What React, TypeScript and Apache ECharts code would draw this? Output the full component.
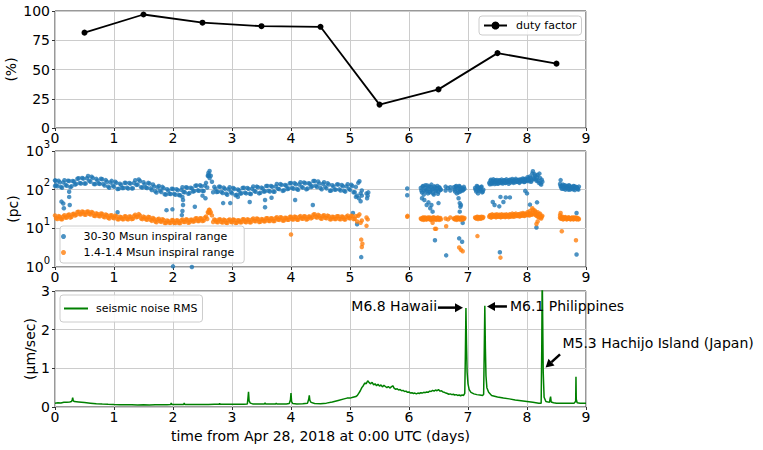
import React, { useEffect, useRef } from "react";
import * as echarts from "echarts";

// ---------- data ----------
const dayTicks = [0, 1, 2, 3, 4, 5, 6, 7, 8, 9];

const dutyDays = [0.5, 1.5, 2.5, 3.5, 4.5, 5.5, 6.5, 7.5, 8.5];
const dutyValues = [81.5, 97, 90, 87, 86.5, 20, 33, 64, 55];

// inspiral range runs: each run starts at a day and is sampled at a fixed step (days)
const runStartA = 0, runStartA2 = 0.02, runStepA = 0.04;
const bbhRunA = [
  174, 123, 156, 112, 175, 126, 167, 123, 163, 141,
  198, 145, 193, 144, 225, 160, 201, 139, 173, 141,
  186, 128, 160, 112, 169, 119, 150, 105, 132, 110,
  150, 107, 143, 108, 175, 135, 167, 113, 137, 110,
  144, 98, 121, 84, 125, 87, 109, 75, 95, 77,
  104, 74, 97, 72, 115, 86, 112, 82, 107, 92,
  128, 94, 123, 92, 150, 225, 230, 86, 105, 88,
  118, 82, 105, 74, 115, 81, 104, 74, 96, 81,
  112, 80, 105, 77, 121, 88, 115, 83, 107, 91,
  125, 90, 119, 88, 140, 103, 133, 97, 126, 107,
  149, 106, 138, 99, 155, 113, 147, 107, 142, 123,
  168, 117, 145, 102, 155, 108, 136, 95, 121, 100,
  136, 95, 123, 89, 138, 99, 124, 86, 70, 165,
  95,
];
const bbhRunA2 = [
  131, 171, 118, 154, 133, 171, 116, 168, 135, 192,
  149, 201, 145, 198, 171, 217, 140, 190, 144, 192,
  140, 177, 120, 154, 128, 161, 104, 143, 110, 150,
  113, 149, 108, 149, 133, 183, 116, 155, 113, 150,
  108, 136, 91, 116, 95, 118, 76, 103, 78, 106,
  78, 103, 73, 99, 87, 116, 78, 112, 89, 126,
  96, 130, 93, 127, 114, 305, 160, 118, 87, 120,
  88, 113, 79, 102, 87, 110, 72, 101, 79, 110,
  84, 111, 79, 106, 92, 120, 80, 113, 89, 124,
  94, 125, 90, 121, 106, 139, 93, 132, 104, 146,
  112, 148, 104, 136, 118, 154, 102, 146, 117, 168,
  126, 163, 110, 141, 118, 146, 94, 130, 100, 137,
  102, 132, 93, 122, 105, 134, 86, 118, 150, 80,
];
const bnsRunA = [
  21.5, 17.5, 20.1, 17.1, 21.8, 19, 22.7, 20, 23.9, 22.3,
  27, 23, 26.5, 22.5, 27.4, 22.8, 25.4, 20.9, 23.4, 20.5,
  23.7, 19.3, 21.7, 18, 21.8, 18.2, 20.5, 17.1, 19.3, 17.2,
  20.4, 17, 20.1, 17.6, 22.4, 20, 21.6, 17.3, 19.2, 16.7,
  19.3, 15.6, 17.5, 14.4, 17.7, 14.7, 16.4, 13.7, 15.4, 13.8,
  16.3, 13.6, 15.9, 13.5, 17, 14.6, 16.8, 14.4, 16.6, 15.2,
  18.2, 15.5, 18, 15.8, 20.2, 25.5, 26, 14.6, 16.2, 14.4,
  17.1, 14.2, 16.2, 13.7, 17, 14.4, 16.4, 13.9, 16, 14.4,
  17.2, 14.4, 16.7, 14.3, 17.9, 15.3, 17.5, 14.8, 17.1, 15.3,
  18.3, 15.5, 18, 15.5, 19.4, 16.5, 18.9, 16, 18.5, 16.7,
  20, 16.9, 19.6, 16.7, 20.7, 17.7, 20.3, 17.3, 20.3, 19.1,
  23.1, 18.9, 21.2, 17.6, 21.7, 18.2, 20.5, 17.2, 19.6, 17.4,
  20.5, 17.1, 19.8, 16.9, 21.3, 18.1, 20.7, 17.7, 15, 23,
  16,
];
const bnsRunA2 = [
  18.3, 20.7, 17.3, 20.3, 18.9, 22.2, 18.9, 23.3, 21.4, 26.4,
  23, 27.3, 22.8, 26.8, 23.8, 26.6, 21.2, 24.4, 20.9, 24.2,
  20.2, 22.9, 18.7, 21.4, 18.9, 21.3, 17.1, 19.9, 17.3, 20.4,
  17.4, 20.2, 17.3, 20.9, 19.4, 23.3, 18, 20.1, 17.2, 19.8,
  16.5, 18.5, 15, 17.1, 15.3, 17.2, 13.7, 15.9, 13.8, 16.3,
  13.9, 16.1, 13.7, 16.1, 14.7, 17.1, 14, 16.7, 14.9, 17.9,
  15.5, 18.3, 15.5, 18.7, 17.5, 30, 21.6, 17, 14.5, 17,
  14.6, 16.8, 13.9, 16.3, 14.7, 16.9, 13.7, 16.2, 14.3, 17.1,
  14.7, 17.1, 14.4, 17, 15.5, 17.9, 14.6, 17.3, 15.3, 18.2,
  15.6, 18.3, 15.5, 18.4, 16.8, 19.3, 15.8, 18.7, 16.6, 19.8,
  17.1, 20.1, 16.8, 19.8, 17.9, 20.6, 16.9, 20.1, 18.1, 22.6,
  19.7, 22.3, 18.2, 21, 18.8, 21.3, 17.1, 20, 17.5, 20.6,
  17.5, 20.3, 17, 20.1, 18.4, 21.1, 17.3, 20.7, 21, 14,
];

const runStepShort = 0.02;

const runStartB = 6.2, runStartB2 = 6.21;
const bbhRunB = [110, 85, 125, 95, 130, 100, 80, 120, 90, 135, 105, 75, 115, 95, 125, 88, 110, 100];
const bbhRunB2 = [95, 120, 75, 110, 90, 128, 105, 85, 118, 98, 80, 122, 92, 108, 78, 115, 98];
const bnsRunB = [18, 17, 19, 17.5, 18.5, 17, 19, 18, 17, 18.5, 17.5, 19, 18, 16.5, 18.5, 17.5, 18, 17];
const bnsRunB2 = [17.5, 18.5, 16.5, 19, 17, 18, 17.5, 19, 16.5, 18, 19, 17, 18.5, 17.5, 19, 16.5, 18.5];

const runStartD = 6.76, runStartD2 = 6.77;
const bbhRunD = [115, 90, 125, 100, 85, 120, 95, 110, 100, 105];
const bbhRunD2 = [100, 120, 80, 110, 125, 90, 105, 95, 118];
const bnsRunD = [18, 17, 19, 17.5, 18.5, 17, 19, 18, 17.5, 18.5];
const bnsRunD2 = [17.5, 18.5, 16.5, 19, 17.5, 18, 16.5, 19, 17.5];

const runStartE = 7.12, runStartE2 = 7.13;
const bbhRunE = [110, 90, 120, 95, 105, 115, 85, 100];
const bbhRunE2 = [100, 125, 80, 110, 95, 120, 90];
const bnsRunE = [19, 18, 20, 18.5, 19.5, 18, 19, 19.5];
const bnsRunE2 = [18.5, 19.5, 17.5, 19, 18, 20, 18.5];

const runStartF = 7.36, runStartF2 = 7.37;
const bbhRunF = [
  150, 170, 140, 165, 155, 175, 145, 160, 150, 170,
  148, 165, 155, 172, 150, 168, 158, 175, 152, 170,
  160, 178, 155, 172, 162, 180, 158, 175, 165, 185,
  160, 180, 168, 190, 165, 200, 175, 300, 190, 230,
  170, 240, 150, 200, 135, 160,
];
const bbhRunF2 = [
  138, 180, 150, 185, 140, 160, 178, 142, 175, 155,
  182, 145, 175, 150, 185, 160, 142, 180, 165, 188,
  150, 170, 190, 160, 175, 150, 185, 170, 195, 158,
  190, 175, 210, 180, 220, 160, 260, 200, 250, 185,
  210, 170, 260, 145, 180,
];
const bnsRunF = [
  20, 22, 19.5, 21.5, 20.5, 22.5, 19.5, 21, 20, 22,
  19.5, 21.5, 20.5, 22, 20, 21.5, 20.5, 22.5, 20, 22,
  21, 23, 20.5, 22, 21, 23, 20.5, 22.5, 21.5, 23.5,
  21, 23, 22, 24, 21.5, 25, 22.5, 30, 23, 27,
  21, 26, 19, 24, 18, 21,
];
const bnsRunF2 = [
  21.5, 19, 23, 20, 21.5, 19.5, 23, 20.5, 22.5, 19.5,
  23, 20, 22.5, 19.5, 23, 21, 19.5, 23, 21, 24,
  20, 22.5, 24, 21, 23, 20.5, 24, 21.5, 25, 21,
  24, 22, 26, 22.5, 28, 23, 33, 25, 29, 22,
  24, 20, 23, 19, 20,
];

const runStartG = 8.56, runStartG2 = 8.57;
const bbhRunG = [140, 115, 125, 105, 130, 110, 120, 100, 125, 108, 118, 102, 122, 110, 115, 105, 120];
const bbhRunG2 = [125, 105, 135, 115, 100, 125, 110, 130, 100, 115, 108, 125, 98, 118, 110, 100];
const bnsRunG = [19, 18, 20, 17.5, 19, 18.5, 17.5, 19, 18, 17, 18.5, 17.5, 19, 18, 17, 18.5, 17.5];
const bnsRunG2 = [18, 19.5, 17, 18.5, 19.5, 17, 18, 19, 17.5, 18.5, 19, 17, 18, 19, 18, 17];

// isolated samples [day, pc]
const bbhSingles = [
  [0.01, 170], [0.0, 125], [0.11, 49], [0.14, 44], [0.15, 33], [0.24, 88], [0.24, 65], [0.25, 40],
  [1.06, 26], [1.89, 29.5], [1.99, 31], [2.0, 1.04], [2.16, 65], [2.17, 54], [2.17, 40],
  [2.16, 28], [2.15, 22], [2.32, 1.0], [2.37, 36], [2.5, 70], [2.55, 60], [2.59, 230], [2.6, 270],
  [2.61, 240], [2.62, 200], [2.85, 45], [2.97, 45], [3.1, 65], [3.3, 48], [3.56, 54], [3.56, 35],
  [3.67, 62], [4.07, 54], [4.37, 40], [5.05, 25], [5.1, 65], [5.12, 12.8], [5.15, 60], [5.18, 50],
  [5.19, 1.8], [5.2, 70], [5.28, 80], [5.29, 60], [5.3, 70], [5.31, 85], [5.97, 107], [5.97, 72],
  [6.22, 60], [6.26, 54], [6.3, 40], [6.33, 47], [6.36, 33], [6.38, 40], [6.4, 27], [6.44, 4.9],
  [6.5, 45], [6.62, 120], [6.62, 95], [6.63, 2.0], [6.66, 110], [6.7, 115], [6.7, 95],
  [6.84, 60], [6.86, 45], [6.86, 27], [6.87, 36], [6.88, 40], [6.85, 5.5], [6.9, 4.5], [6.91, 13.8],
  [7.42, 48], [7.45, 40], [7.53, 37], [7.54, 2.4], [7.55, 65], [7.6, 48], [7.64, 63], [7.71, 63],
  [7.97, 93], [8.0, 80], [8.05, 41], [8.17, 47], [8.16, 10.5], [8.57, 177], [8.84, 25], [8.84, 2.1],
];
const bnsSingles = [
  [2.59, 26], [2.61, 30], [2.62, 25], [4.0, 6.9], [5.19, 5.1], [5.2, 3.3], [5.21, 4.0],
  [5.28, 19], [5.3, 17], [5.28, 11.6], [5.97, 20], [5.975, 21], [6.4, 14], [6.44, 9.7],
  [6.46, 9.7], [6.62, 18], [6.66, 17], [6.7, 19], [6.63, 11.3], [6.85, 3.2], [6.88, 2.8],
  [6.91, 2.55], [7.16, 6.3], [7.55, 1.75], [8.16, 13], [8.18, 15], [8.56, 22], [8.57, 25],
  [8.59, 8.4], [8.83, 4.9],
];

// seismic noise RMS [day, um/s]
const seismicRms = [
  [0, 0.1], [0.05, 0.11], [0.1, 0.105], [0.15, 0.12], [0.2, 0.125], [0.25, 0.13], [0.28, 0.14],
  [0.29, 0.18], [0.3, 0.24], [0.31, 0.16], [0.33, 0.14], [0.4, 0.13], [0.5, 0.115], [0.6, 0.1],
  [0.7, 0.085], [0.8, 0.075], [0.9, 0.068], [1.0, 0.062], [1.1, 0.06], [1.2, 0.056], [1.3, 0.055],
  [1.4, 0.052], [1.5, 0.055], [1.6, 0.053], [1.7, 0.056], [1.8, 0.058], [1.9, 0.06], [1.96, 0.062],
  [1.97, 0.1], [1.98, 0.064], [2.1, 0.062], [2.18, 0.063], [2.19, 0.1], [2.2, 0.064], [2.3, 0.065],
  [2.4, 0.063], [2.5, 0.066], [2.6, 0.065], [2.7, 0.068], [2.78, 0.07], [2.79, 0.09], [2.8, 0.07],
  [2.9, 0.07], [3.0, 0.072], [3.1, 0.07], [3.2, 0.072], [3.26, 0.08], [3.27, 0.22], [3.28, 0.39],
  [3.29, 0.16], [3.31, 0.1], [3.35, 0.08], [3.45, 0.075], [3.55, 0.078], [3.56, 0.11], [3.57, 0.08],
  [3.65, 0.076], [3.74, 0.078], [3.75, 0.1], [3.76, 0.08], [3.85, 0.08], [3.92, 0.078], [3.97, 0.09],
  [3.99, 0.18], [4.0, 0.36], [4.01, 0.14], [4.03, 0.09], [4.1, 0.08], [4.2, 0.082], [4.28, 0.1],
  [4.3, 0.2], [4.31, 0.3], [4.32, 0.17], [4.34, 0.12], [4.4, 0.09], [4.5, 0.085], [4.6, 0.1],
  [4.7, 0.13], [4.8, 0.17], [4.9, 0.21], [4.95, 0.23], [5.0, 0.23], [5.05, 0.25], [5.1, 0.27],
  [5.125, 0.3], [5.15, 0.36], [5.175, 0.42], [5.2, 0.5], [5.225, 0.55], [5.25, 0.62], [5.275, 0.6],
  [5.3, 0.68], [5.325, 0.63], [5.35, 0.6], [5.375, 0.64], [5.4, 0.57], [5.425, 0.6], [5.45, 0.55],
  [5.475, 0.59], [5.5, 0.54], [5.525, 0.57], [5.55, 0.52], [5.575, 0.56], [5.6, 0.53], [5.625, 0.5],
  [5.65, 0.53], [5.675, 0.49], [5.7, 0.52], [5.725, 0.55], [5.75, 0.48], [5.775, 0.46], [5.8, 0.47],
  [5.825, 0.44], [5.85, 0.45], [5.875, 0.42], [5.9, 0.43], [5.925, 0.4], [5.95, 0.41], [5.975, 0.38],
  [6.0, 0.39], [6.025, 0.36], [6.05, 0.37], [6.075, 0.35], [6.1, 0.36], [6.125, 0.34], [6.15, 0.36],
  [6.175, 0.35], [6.2, 0.37], [6.225, 0.36], [6.25, 0.38], [6.275, 0.37], [6.3, 0.39], [6.325, 0.38],
  [6.35, 0.41], [6.375, 0.4], [6.4, 0.43], [6.425, 0.41], [6.45, 0.44], [6.475, 0.42], [6.5, 0.45],
  [6.525, 0.41], [6.55, 0.42], [6.575, 0.39], [6.6, 0.38], [6.625, 0.36], [6.65, 0.35], [6.675, 0.33],
  [6.7, 0.34], [6.725, 0.32], [6.75, 0.33], [6.775, 0.31], [6.8, 0.32], [6.825, 0.3], [6.85, 0.31],
  [6.875, 0.29], [6.9, 0.31], [6.925, 0.3], [6.945, 0.35], [6.955, 1.3], [6.965, 2.56], [6.975, 1.6],
  [6.985, 0.9], [7.0, 0.6], [7.02, 0.45], [7.05, 0.38], [7.1, 0.34], [7.15, 0.32], [7.2, 0.31],
  [7.25, 0.3], [7.265, 0.33], [7.275, 1.4], [7.285, 2.62], [7.295, 1.5], [7.305, 0.8], [7.32, 0.5],
  [7.35, 0.38], [7.4, 0.3], [7.45, 0.28], [7.5, 0.26], [7.6, 0.23], [7.7, 0.21], [7.8, 0.18],
  [7.9, 0.16], [8.0, 0.14], [8.1, 0.12], [8.2, 0.1], [8.24, 0.1], [8.25, 1.5], [8.258, 3.5],
  [8.266, 3.5], [8.275, 0.9], [8.29, 0.25], [8.32, 0.14], [8.38, 0.12], [8.39, 0.2], [8.4, 0.27],
  [8.41, 0.13], [8.45, 0.11], [8.5, 0.1], [8.6, 0.1], [8.7, 0.1], [8.8, 0.1], [8.825, 0.15],
  [8.83, 0.78], [8.835, 0.2], [8.85, 0.11], [8.9, 0.1], [9.0, 0.1],
];

// earthquake annotations (data coordinates of the bottom panel)
const quakeLabels = ["M6.8 Hawaii", "M6.1 Philippines", "M5.3 Hachijo Island (Japan)"];
const quakeTips = [[6.915, 2.57], [7.322, 2.6], [8.315, 1.02]];
const quakeTails = [[6.49, 2.57], [7.66, 2.6], [8.56, 1.36]];
const quakeTextAt = [[6.475, 2.61], [7.71, 2.62], [8.6, 1.65]];
const quakeAlign = ["right", "left", "left"];

// ---------- helpers ----------
const FONT = "DejaVu Sans";

function runPoints(start: number, step: number, values: number[]) {
  return values.map((v, i) => [+(start + i * step).toFixed(3), v]);
}

export default function App() {
  const ref = useRef<HTMLDivElement>(null);

  useEffect(() => {
    document.body.style.margin = "0";
    if (!ref.current) return;
    const chart = echarts.init(ref.current, null, { renderer: "svg" });

    const bbh = [
      ...runPoints(runStartA, runStepA, bbhRunA),
      ...runPoints(runStartA2, runStepA, bbhRunA2),
      ...runPoints(runStartB, runStepShort, bbhRunB),
      ...runPoints(runStartB2, runStepShort, bbhRunB2),
      ...runPoints(runStartD, runStepShort, bbhRunD),
      ...runPoints(runStartD2, runStepShort, bbhRunD2),
      ...runPoints(runStartE, runStepShort, bbhRunE),
      ...runPoints(runStartE2, runStepShort, bbhRunE2),
      ...runPoints(runStartF, runStepShort, bbhRunF),
      ...runPoints(runStartF2, runStepShort, bbhRunF2),
      ...runPoints(runStartG, runStepShort, bbhRunG),
      ...runPoints(runStartG2, runStepShort, bbhRunG2),
      ...bbhSingles,
    ];
    const bns = [
      ...runPoints(runStartA, runStepA, bnsRunA),
      ...runPoints(runStartA2, runStepA, bnsRunA2),
      ...runPoints(runStartB, runStepShort, bnsRunB),
      ...runPoints(runStartB2, runStepShort, bnsRunB2),
      ...runPoints(runStartD, runStepShort, bnsRunD),
      ...runPoints(runStartD2, runStepShort, bnsRunD2),
      ...runPoints(runStartE, runStepShort, bnsRunE),
      ...runPoints(runStartE2, runStepShort, bnsRunE2),
      ...runPoints(runStartF, runStepShort, bnsRunF),
      ...runPoints(runStartF2, runStepShort, bnsRunF2),
      ...runPoints(runStartG, runStepShort, bnsRunG),
      ...runPoints(runStartG2, runStepShort, bnsRunG2),
      ...bnsSingles,
    ];

    const grids = [
      { left: 55, top: 11, width: 531, height: 117 },
      { left: 55, top: 151, width: 531, height: 116 },
      { left: 55, top: 291, width: 531, height: 116 },
    ].map((g) => ({
      ...g,
      show: true,
      borderColor: "#333",
      borderWidth: 1,
      backgroundColor: "transparent",
      containLabel: false,
      outerBoundsMode: "none",
    }));

    const splitLine = { show: true, lineStyle: { color: "#cccccc", width: 1 } };
    const tick = { show: true, length: 3, lineStyle: { color: "#333" } };

    const xAxes = [0, 1, 2].map((i) => ({
      type: "value",
      gridIndex: i,
      min: dayTicks[0],
      max: dayTicks[dayTicks.length - 1],
      interval: 1,
      axisLine: { show: false },
      axisTick: tick,
      splitLine,
      axisLabel: { fontSize: 14, color: "#000", margin: 3, fontFamily: FONT },
      ...(i === 2
        ? {
            name: "time from Apr 28, 2018 at 0:00 UTC (days)",
            nameLocation: "middle",
            nameGap: 22,
            nameMoveOverlap: false,
            nameTextStyle: { fontSize: 14, color: "#000", fontFamily: FONT },
          }
        : {}),
    }));

    const yName = (name: string, gap: number) => ({
      name,
      nameLocation: "middle",
      nameRotate: 90,
      nameGap: gap,
      nameMoveOverlap: false,
      nameTextStyle: { fontSize: 14, color: "#000", fontFamily: FONT },
    });

    const yAxes = [
      {
        type: "value",
        gridIndex: 0,
        min: 0,
        max: 100,
        interval: 25,
        axisLine: { show: false },
        axisTick: tick,
        splitLine,
        axisLabel: { fontSize: 14, color: "#000", margin: 5, fontFamily: FONT },
        ...yName("(%)", 37),
      },
      {
        type: "log",
        logBase: 10,
        gridIndex: 1,
        min: 1,
        max: 1000,
        axisLine: { show: false },
        axisTick: tick,
        splitLine,
        axisLabel: {
          margin: 5,
          color: "#000",
          fontFamily: FONT,
          formatter: (v: number) => `{b|10}{s|${Math.round(Math.log10(v))}}`,
          rich: {
            b: { fontSize: 14, lineHeight: 24, verticalAlign: "middle", fontFamily: FONT, color: "#000" },
            s: { fontSize: 10, lineHeight: 10, verticalAlign: "top", fontFamily: FONT, color: "#000" },
          },
        },
        ...yName("(pc)", 35),
      },
      {
        type: "value",
        gridIndex: 2,
        min: 0,
        max: 3,
        interval: 1,
        axisLine: { show: false },
        axisTick: tick,
        splitLine,
        axisLabel: { fontSize: 14, color: "#000", margin: 5, fontFamily: FONT },
        ...yName("(\u03bcm/sec)", 18),
      },
    ];

    const legendBase = {
      backgroundColor: "rgba(255,255,255,0.85)",
      borderColor: "#cccccc",
      borderWidth: 1,
      borderRadius: 3,
      textStyle: { fontSize: 11, color: "#000", fontFamily: FONT },
      selectedMode: false,
    };

    chart.setOption({
      animation: false,
      textStyle: { fontFamily: FONT },
      grid: grids,
      xAxis: xAxes,
      yAxis: yAxes,
      legend: [
        {
          ...legendBase,
          data: ["duty factor"],
          left: 479,
          top: 16,
          padding: [4, 5, 4, 4],
          itemWidth: 23,
          itemHeight: 10,
          textStyle: { ...legendBase.textStyle, padding: [0, 0, 0, 4] },
        },
        {
          ...legendBase,
          data: ["30-30 Msun inspiral range", "1.4-1.4 Msun inspiral range"],
          orient: "vertical",
          left: 60,
          top: 226,
          padding: [4, 10, 4, 1],
          itemWidth: 30,
          itemHeight: 5,
          itemGap: 3,
          textStyle: { ...legendBase.textStyle, lineHeight: 13 },
        },
        {
          ...legendBase,
          data: [{ name: "seismic noise RMS", icon: "rect" }],
          left: 60,
          top: 295,
          padding: [8, 5, 8, 4],
          itemWidth: 24,
          itemHeight: 2,
          textStyle: { ...legendBase.textStyle, padding: [0, 0, 0, 3] },
        },
      ],
      series: [
        {
          name: "duty factor",
          type: "line",
          xAxisIndex: 0,
          yAxisIndex: 0,
          data: dutyDays.map((d, i) => [d, dutyValues[i]]),
          color: "#000",
          lineStyle: { width: 1.8, color: "#000" },
          symbol: "circle",
          symbolSize: 6,
          itemStyle: { color: "#000" },
        },
        {
          name: "30-30 Msun inspiral range",
          type: "scatter",
          xAxisIndex: 1,
          yAxisIndex: 1,
          data: bbh,
          symbolSize: 4.5,
          itemStyle: { color: "#1f77b4" },
        },
        {
          name: "1.4-1.4 Msun inspiral range",
          type: "scatter",
          xAxisIndex: 1,
          yAxisIndex: 1,
          data: bns,
          symbolSize: 4.5,
          itemStyle: { color: "#ff7f0e" },
        },
        {
          name: "seismic noise RMS",
          type: "line",
          xAxisIndex: 2,
          yAxisIndex: 2,
          data: seismicRms,
          showSymbol: false,
          symbol: "none",
          clip: true,
          lineStyle: { width: 1.5, color: "#008000" },
          itemStyle: { color: "#008000" },
        },
      ],
    });

    // annotations positioned through the bottom panel's axes
    const toPx = (p: number[]) => chart.convertToPixel({ xAxisIndex: 2, yAxisIndex: 2 }, p) as number[];
    const graphics: any[] = [];
    quakeLabels.forEach((label, i) => {
      const tip = toPx(quakeTips[i]);
      const tail = toPx(quakeTails[i]);
      const at = toPx(quakeTextAt[i]);
      const dx = tip[0] - tail[0];
      const dy = tip[1] - tail[1];
      const len = Math.hypot(dx, dy);
      const ux = dx / len, uy = dy / len;
      const nx = -uy, ny = ux;
      const headLen = 8, headHalf = 4.5;
      const bx = tip[0] - ux * headLen, by = tip[1] - uy * headLen;
      graphics.push({
        type: "line",
        shape: { x1: tail[0], y1: tail[1], x2: bx, y2: by },
        style: { stroke: "#000", lineWidth: 2.5 },
        z: 100,
      });
      graphics.push({
        type: "polygon",
        shape: {
          points: [
            [tip[0], tip[1]],
            [bx + nx * headHalf, by + ny * headHalf],
            [bx - nx * headHalf, by - ny * headHalf],
          ],
        },
        style: { fill: "#000" },
        z: 100,
      });
      graphics.push({
        type: "text",
        x: at[0],
        y: at[1],
        style: {
          text: label,
          fontSize: 14,
          fontFamily: FONT,
          fill: "#000",
          align: quakeAlign[i],
          verticalAlign: "middle",
        },
        z: 100,
      });
    });
    chart.setOption({ graphic: graphics });

    return () => chart.dispose();
  }, []);

  return <div ref={ref} style={{ width: 763, height: 450 }} />;
}
